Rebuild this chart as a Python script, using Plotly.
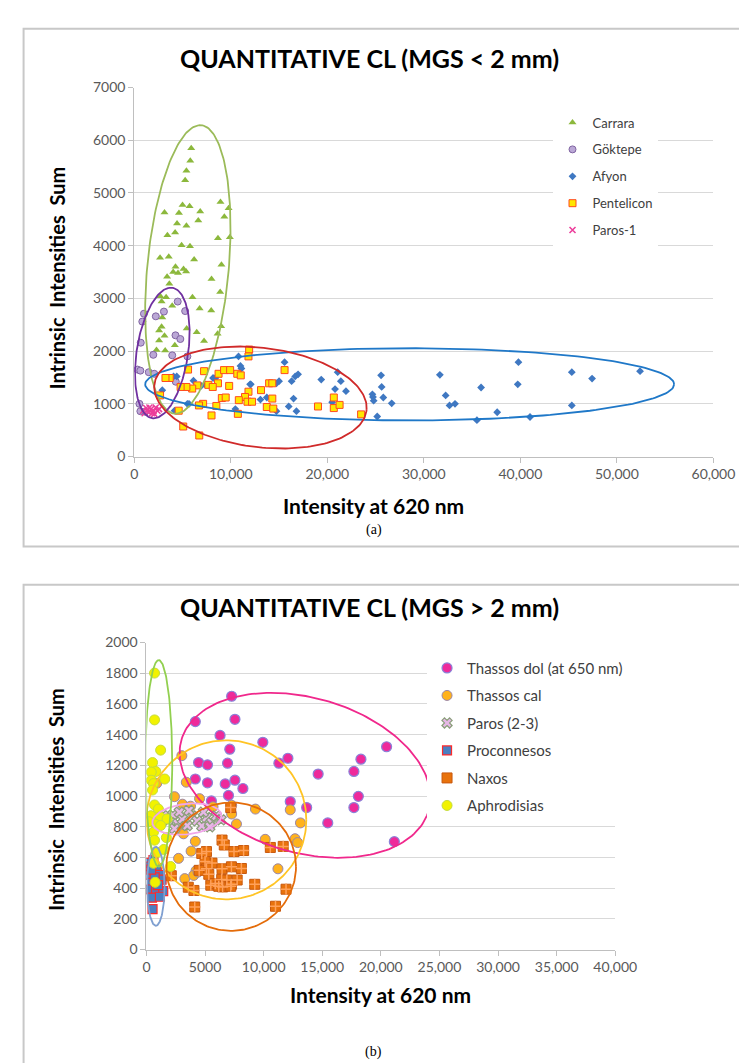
import numpy as np
import plotly.graph_objects as go

W, H = 747, 1063

# ---------------- panel (a): MGS < 2 mm ----------------
carrara_x = [5900, 5800, 5400, 5270, 3130, 5000, 5730, 4630, 6830, 6630, 8930, 9330, 9770, 4430, 5400,
             4230, 3430, 9900, 8670, 4900, 5770, 2670, 3570, 6200, 9030, 4270, 5100, 5370, 4030, 3400,
             4530, 8000, 3630, 8900, 6030, 2700, 3300, 3930, 6770, 7970, 2900, 2830, 5430, 9000, 2570,
             6470, 3130, 8630, 2570, 7230, 2300, 3200, 4200, 2830]
carrara_y = [5850, 5610, 5420, 5240, 4630, 4770, 4750, 4620, 4650, 4480, 4830, 4550, 4710, 4420, 4380,
             4250, 4200, 4160, 4140, 4010, 3990, 3770, 3790, 3740, 3640, 3600, 3560, 3510, 3500, 3410,
             3480, 3370, 3280, 3120, 3020, 3040, 3020, 2860, 2810, 2770, 2640, 2460, 2430, 2470, 2390,
             2360, 2290, 2330, 2200, 2190, 2020, 2010, 2110, 2940]

goktepe_x = [4500, 5270, 3070, 2230, 1000, 830, 670, 1970, 3930, 4270, 4770, 330, 630, 1500, 5500,
             4300, 2070, 530, 630, 1130]
goktepe_y = [2940, 2760, 2750, 2660, 2710, 2560, 2160, 1930, 1920, 2300, 2230, 1650, 1630, 1600, 1900,
             1420, 1570, 1000, 860, 850]

afyon_x = [10800, 11000, 11100, 12070, 15570, 15000, 14730, 16300, 16670, 16970, 19370, 16500, 16800,
           21070, 21400, 21930, 20800, 20500, 25570, 25630, 25800, 24730, 24800, 25170, 26670, 13070,
           13730, 14730, 10470, 4070, 6130, 8400, 5670, 2900, 31660, 32260, 32660, 33230, 35930, 35500,
           37600, 39800, 39730, 41000, 45330, 45330, 47430, 52400, 4400, 7330, 8160, 5500, 12000, 4170,
           6930, 16000, 24670]
afyon_y = [1900, 1720, 1670, 1370, 1790, 1430, 1390, 1430, 1520, 1560, 1460, 1100, 860,
           1600, 1430, 1240, 1280, 1030, 1540, 1320, 1120, 1130, 1060, 760, 1010, 1080,
           1120, 860, 900, 1520, 1440, 1490, 1000, 1260, 1550, 1160, 970, 1000, 1310, 690,
           840, 1790, 1370, 750, 1600, 970, 1480, 1620, 1520, 1370, 1490, 1000, 1370, 870,
           1340, 950, 1180]

pentelicon_x = [11900, 11830, 15570, 7230, 3670, 5570, 8730, 9300, 9930, 10670, 11030, 9830, 8670, 7670,
                8130, 6530, 6000, 5400, 4800, 3230, 2670, 11830, 11470, 11730, 12200, 10830, 10730,
                13130, 13970, 14300, 14300, 13730, 14400, 9070, 9470, 8500, 7130, 6700, 8000, 4600,
                5070, 6730, 19030, 20670, 20670, 21270, 23500]
pentelicon_y = [2030, 1900, 1640, 1620, 1490, 1650, 1570, 1640, 1640, 1570, 1540, 1340, 1390, 1360,
                1320, 1350, 1290, 1320, 1320, 1490, 1160, 1230, 1130, 1040, 1040, 1070, 810,
                1260, 1390, 1390, 1100, 940, 910, 1110, 1120, 960, 1000, 970, 780, 870,
                570, 400, 950, 1120, 920, 980, 800]

paros1_x = [900, 1230, 1470, 1730, 2000, 2230, 2400, 1570, 1070, 2070, 2570, 1330, 1830]
paros1_y = [870, 920, 840, 900, 860, 930, 870, 930, 820, 810, 900, 870, 820]

a_xticks = [0, 10000, 20000, 30000, 40000, 50000, 60000]
a_xtick_text = ["0", "10,000", "20,000", "30,000", "40,000", "50,000", "60,000"]

# ---------------- panel (b): MGS > 2 mm ----------------
thdol_x = [7270, 7550, 4170, 6280, 9930, 7110, 4450, 5210, 6920, 4170, 5210, 6720, 7550, 8230, 7000,
           5540, 12070, 11300, 14650, 12270, 13670, 20490, 18300, 17700, 18080, 17700, 15470, 21150]
thdol_y = [1650, 1500, 1485, 1395, 1350, 1305, 1218, 1203, 1214, 1111, 1086, 1079, 1103, 1049, 1004,
           968, 1246, 1214, 1143, 964, 925, 1321, 1240, 1160, 998, 925, 825, 703]

thcal_x = [3020, 3400, 2390, 3070, 3760, 4530, 5680, 7270, 7270, 7680, 9300, 12270, 13140, 12680, 10130,
           2850, 3160, 4170, 2740, 3810, 5210, 4230, 3270, 4030, 11220, 880, 4400, 12900]
thcal_y = [1263, 1090, 996, 947, 934, 983, 930, 940, 883, 818, 915, 910, 825, 722, 718,
           801, 754, 705, 594, 641, 562, 513, 462, 483, 526, 1083, 505, 697]

paros23_x = [1430, 1840, 2250, 2660, 3070, 3480, 3900, 4310, 4720, 5130, 5540, 5950, 3620, 2800, 4860,
             6370, 2390, 5400]
paros23_y = [872, 840, 877, 820, 850, 807, 870, 838, 805, 860, 827, 870, 906, 895, 895,
             845, 788, 800]

procon_x = [150, 600, 330, 880, 190, 1150, 470, 1290, 330, 820, 1430, 470, 1150, 520, 700, 1000, 400]
procon_y = [565, 583, 541, 530, 487, 487, 434, 455, 391, 391, 380, 338, 344, 263, 470, 420, 520]

naxos_x = [7190, 6450, 6640, 7470, 8290, 10570, 11670, 4720, 5120, 5590, 5000, 5120, 4500, 5320, 6450,
           7250, 8100, 6420, 6860, 6500, 7250, 7740, 5490, 5870, 3570, 4050, 9240, 11910, 4120, 11010,
           2120, 6170, 7190]
naxos_y = [925, 713, 681, 638, 645, 665, 672, 626, 638, 563, 573, 526, 516, 490, 526,
           539, 528, 457, 453, 408, 425, 453, 419, 430, 406, 385, 425, 393, 277, 282,
           481, 412, 412]

aphro_x = [690, 690, 1210, 520, 800, 410, 1560, 410, 600, 520, 690, 1020, 380, 1150, 1760, 740, 190,
           1210, 600, 1700, 690, 930, 1480, 600, 2060, 740]
aphro_y = [1801, 1496, 1299, 1218, 1160, 1156, 1111, 1103, 1081, 1039, 942, 915, 872, 865, 851, 818, 833,
           808, 765, 729, 712, 633, 652, 562, 541, 438]

b_xticks = [0, 5000, 10000, 15000, 20000, 25000, 30000, 35000, 40000]
b_xtick_text = ["0", "5000", "10,000", "15,000", "20,000", "25,000", "30,000", "35,000", "40,000"]

# grouping ellipses: (center, half-axis a, half-axis b), data units
ellipses_a = [
    ((5550, 3550), (1115, 2735), (4280, 100), "#9bbb59"),
    ((2900, 1965), (670, 1235), (2750, 100), "#7030a0"),
    ((28530, 1370), (27400, 0), (0, 685), "#1f78c8"),
    ((13070, 1120), (11000, -230), (420, 940), "#d02a2a"),
]
ellipses_b = [
    ((13530, 1135), (10700, -135), (-200, 520), "#f0288c"),
    ((6820, 845), (6820, 0), (0, 518), "#ffc425"),
    ((3450, 850), (2950, 22), (0, 100), "#f0a6ea"),
    ((800, 412), (750, 0), (0, 257), "#7f9fd0"),
    ((7230, 540), (5530, 0), (0, 418), "#e46c0a"),
    ((1050, 1213), (1150, 0), (0, 673), "#92d050"),
]


def ellipse(c, a, b, n=200):
    t = np.linspace(0, 2 * np.pi, n)
    return (c[0] + a[0] * np.cos(t) + b[0] * np.sin(t),
            c[1] + a[1] * np.cos(t) + b[1] * np.sin(t))


def px(x):
    return x / W


def py(y):
    return 1 - y / H


FONT = "Lato"
fig = go.Figure()

# panel a series
series_a = [
    ("Carrara", carrara_x, carrara_y, dict(symbol="triangle-up", size=7, color="#8cb83c")),
    ("Göktepe", goktepe_x, goktepe_y, dict(symbol="circle", size=7, color="#bba8d6",
                                           line=dict(color="#8064a2", width=1))),
    ("Afyon", afyon_x, afyon_y, dict(symbol="diamond", size=6, color="#3f78c2")),
    ("Pentelicon", pentelicon_x, pentelicon_y, dict(symbol="square", size=7, color="#ffe600",
                                                   line=dict(color="#ff4b1f", width=1))),
    ("Paros-1", paros1_x, paros1_y, dict(symbol="x-thin-open", size=6, color="#ec3c9a",
                                         line=dict(color="#ec3c9a", width=1.5))),
]
for name, xs, ys, mk in series_a:
    fig.add_trace(go.Scatter(x=xs, y=ys, mode="markers", name=name, marker=mk,
                             xaxis="x", yaxis="y", legend="legend", legendgroup=name))
for c, a, b, col in ellipses_a:
    ex, ey = ellipse(c, a, b)
    fig.add_trace(go.Scatter(x=ex, y=ey, mode="lines", line=dict(color=col, width=1.8),
                             showlegend=False, hoverinfo="skip", xaxis="x", yaxis="y"))

# panel b series
series_b = [
    ("Thassos dol (at 650 nm)", thdol_x, thdol_y, dict(symbol="circle", size=10, color="#ee2a9b",
                                                      line=dict(color="#8b82d8", width=1.2))),
    ("Thassos cal", thcal_x, thcal_y, dict(symbol="circle", size=10, color="#ffb21c",
                                           line=dict(color="#9a86a8", width=1))),
    ("Paros (2-3)", paros23_x, paros23_y, dict(symbol="x", size=9, color="#e6b8e6",
                                               line=dict(color="#8a9e7a", width=1.2))),
    ("Proconnesos", procon_x, procon_y, dict(symbol="square", size=9, color="#4a7fc1",
                                             line=dict(color="#ff2a2a", width=1.2))),
    ("Naxos", naxos_x, naxos_y, dict(symbol="square", size=10, color="#e8720c",
                                     line=dict(color="#c8580e", width=1))),
    ("Aphrodisias", aphro_x, aphro_y, dict(symbol="circle", size=10, color="#f2f200",
                                           line=dict(color="#c4dc3c", width=1))),
]
for name, xs, ys, mk in series_b:
    fig.add_trace(go.Scatter(x=xs, y=ys, mode="markers", name=name, marker=mk,
                             xaxis="x2", yaxis="y2", legend="legend2", legendgroup=name))
    if name == "Naxos":
        fig.add_trace(go.Scatter(x=xs, y=ys, mode="markers", showlegend=False, hoverinfo="skip",
                                 marker=dict(symbol="cross-thin-open", size=8,
                                             line=dict(color="#7ac143", width=1.5)),
                                 xaxis="x2", yaxis="y2"))
for c, a, b, col in ellipses_b:
    ex, ey = ellipse(c, a, b)
    fig.add_trace(go.Scatter(x=ex, y=ey, mode="lines", line=dict(color=col, width=1.8),
                             showlegend=False, hoverinfo="skip", xaxis="x2", yaxis="y2"))

axis_common = dict(showline=True, linecolor="#bfbfbf", linewidth=1, ticks="outside",
                   ticklen=5, tickcolor="#bfbfbf", zeroline=False,
                   tickfont=dict(family=FONT, size=14, color="#595959"))

fig.update_layout(
    width=W, height=H,
    margin=dict(l=0, r=0, t=0, b=0),
    paper_bgcolor="white", plot_bgcolor="white",
    font=dict(family=FONT, color="#404040"),
    xaxis=dict(domain=[px(126.7), px(726.7)], anchor="y", range=[0, 60000],
               tickvals=a_xticks, ticktext=a_xtick_text, showgrid=False, **axis_common),
    yaxis=dict(domain=[py(446.7), py(71.7)], anchor="x", range=[0, 7000], dtick=1000,
               tickformat="d", showgrid=True, gridcolor="#d9d9d9", **axis_common),
    xaxis2=dict(domain=[px(139.3), px(625)], anchor="y2", range=[0, 40000],
                tickvals=b_xticks, ticktext=b_xtick_text, showgrid=False, **axis_common),
    yaxis2=dict(domain=[py(947.7), py(635.7)], anchor="x2", range=[0, 2000], dtick=200,
                tickformat="d", showgrid=True, gridcolor="#d9d9d9", **axis_common),
    legend=dict(x=px(560), y=py(92), xanchor="left", yanchor="top", bgcolor="white",
                font=dict(family=FONT, size=13, color="#404040"), tracegroupgap=7),
    legend2=dict(x=px(430), y=py(645), xanchor="left", yanchor="top", bgcolor="white",
                 font=dict(family=FONT, size=15, color="#404040"), tracegroupgap=5),
    showlegend=True,
)

# panel frames
fig.add_shape(type="rect", xref="paper", yref="paper", x0=px(12), x1=px(760), y0=py(538), y1=py(12),
              line=dict(color="#c8c8c8", width=2))
fig.add_shape(type="rect", xref="paper", yref="paper", x0=px(12), x1=px(760), y0=py(1075), y1=py(577),
              line=dict(color="#c8c8c8", width=2))

texts = [
    ("QUANTITATIVE CL (MGS < 2 mm)", 370, 42, 25, True, 0, FONT),
    ("QUANTITATIVE CL (MGS > 2 mm)", 370, 600, 25, True, 0, FONT),
    ("Intrinsic  Intensities  Sum", 46, 265, 20, True, -90, FONT),
    ("Intrinsic  Intensities  Sum", 46, 795, 20, True, -90, FONT),
    ("Intensity at 620 nm", 375, 496, 21, True, 0, FONT),
    ("Intensity at 620 nm", 382, 993, 21, True, 0, FONT),
    ("(a)", 375, 521, 14, False, 0, "Liberation Serif"),
    ("(b)", 375, 1052, 14, False, 0, "Liberation Serif"),
]
for txt, x, y, size, bold, ang, fam in texts:
    fig.add_annotation(text=f"<b>{txt}</b>" if bold else txt, x=px(x), y=py(y), xref="paper",
                       yref="paper", showarrow=False, textangle=ang, xanchor="center",
                       yanchor="middle", font=dict(family=fam, size=size, color="black"))

fig.write_html("out.html")
